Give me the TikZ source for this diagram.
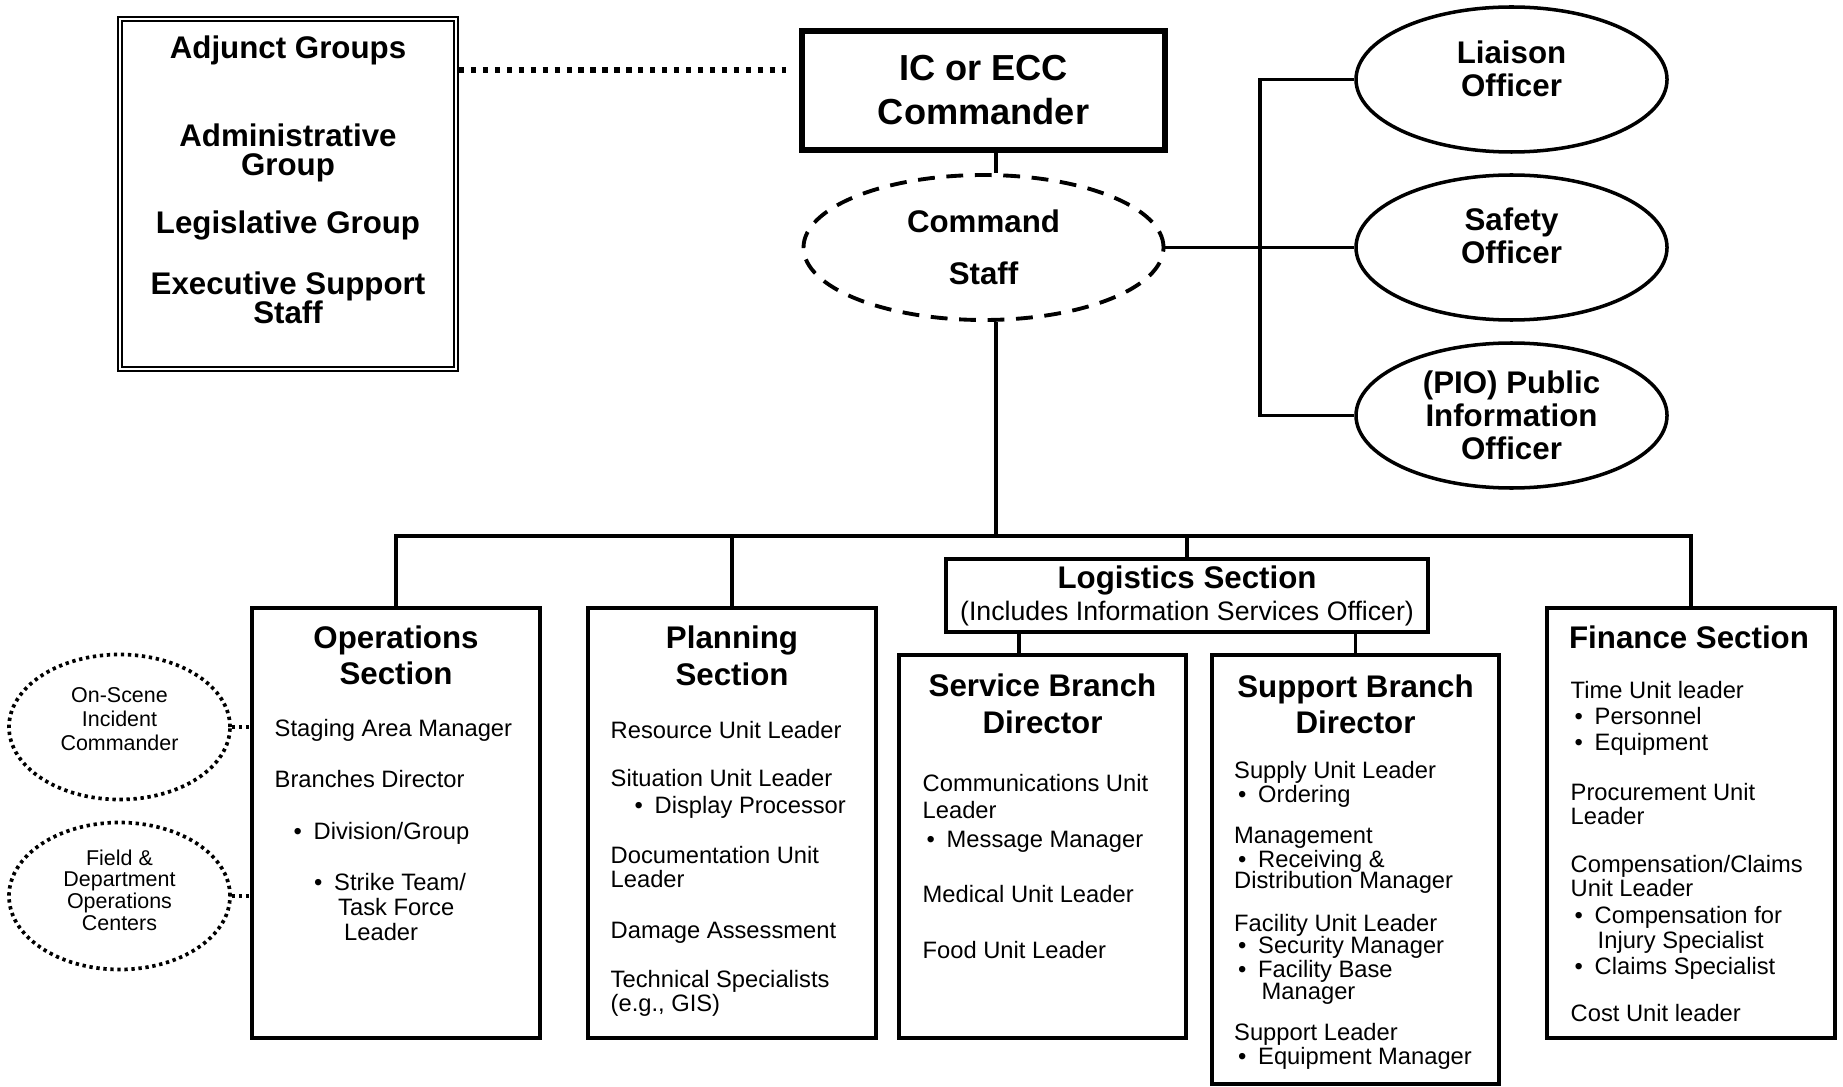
\documentclass[tikz,border=0pt]{standalone}
\usepackage{fontspec}
\setmainfont{Liberation Sans}
\usepackage{tikz}
\usetikzlibrary{shapes.geometric}

\newcommand{\headfont}{\fontsize{8.9}{9.4}\selectfont\bfseries}
\newcommand{\itemfont}{\fontsize{6.75}{7.7}\selectfont}
\newcommand{\bul}{\makebox[0.2cm][l]{\textbullet}}

\begin{document}
\begin{tikzpicture}[x=1cm,y=-1cm,
  box/.style={draw,line width=1pt,inner sep=0pt},
  oval/.style={draw,ellipse,line width=1pt,inner sep=0pt,align=center,font=\headfont,minimum width=3.11cm,minimum height=1.45cm},
  smalloval/.style={draw,ellipse,line width=1.05pt,dash pattern=on 0.95pt off 1.05pt,inner sep=0pt,align=center,minimum width=2.21cm},
  head/.style={anchor=base,inner sep=0pt,font=\headfont},
  item/.style={anchor=base west,inner sep=0pt,font=\itemfont},
  link/.style={line width=0.9pt},
  dotlink/.style={line width=1.05pt,dash pattern=on 0.95pt off 1.05pt}]
\useasboundingbox (0,0) rectangle (18.43,10.86);
% top row
\node[draw,double,line width=0.55pt,double distance=0.65pt,minimum width=3.36cm,minimum height=3.50cm] (adj) at (2.88,1.94) {};
\foreach \y/\t [count=\i] in {0.585/Adjunct Groups,1.47/Administrative,1.76/Group,2.34/Legislative Group,2.945/Executive Support,3.235/Staff}
  \node[head] (adj-\i) at (2.88,\y) {\t};
\node[draw,line width=1.7pt,inner sep=0pt,minimum width=3.63cm,minimum height=1.19cm,align=center,font=\fontsize{10.3}{12.5}\selectfont\bfseries] (ic) at (9.835,0.905) {IC or ECC\\Commander};
\node[draw,ellipse,line width=1.1pt,dash pattern=on 4.8pt off 3.3pt,inner sep=0pt,minimum width=3.60cm,minimum height=1.45cm,align=center,font=\fontsize{8.9}{14.8}\selectfont\bfseries] (cs) at (9.835,2.475) {Command\\Staff};
\coordinate (lnk) at (0,0.70);
\draw[line width=1.5pt,dash pattern=on 1.5pt off 1.9pt,shorten <=0.02cm,shorten >=0.13cm] (adj.east |- lnk) -- (ic.west |- lnk);
\coordinate (stem) at (9.96,0);
\draw[link] (ic.south -| stem) -- (cs.north -| stem);
% officers
\node[oval,text depth=0.22cm] (liaison) at (15.115,0.795) {Liaison\\Officer};
\node[oval,text depth=0.24cm] (safety) at (15.115,2.475) {Safety\\Officer};
\node[oval] (pio) at (15.115,4.155) {(PIO) Public\\Information\\Officer};
\coordinate (rail) at (12.60,0);
\draw[link] (liaison.west) -- (liaison.west -| rail) -- (pio.west -| rail) -- (pio.west);
\draw[link] (cs.east) -- (safety.west);
% sections
\node[box,minimum width=2.88cm,minimum height=4.30cm] (ops) at (3.96,8.23) {};
\node[box,minimum width=2.88cm,minimum height=4.30cm] (plan) at (7.32,8.23) {};
\node[box,minimum width=4.82cm,minimum height=0.73cm,align=center,font=\fontsize{7.6}{9.1}\selectfont] (log) at (11.87,5.955)
  {{\fontsize{8.9}{9.1}\selectfont\bfseries Logistics Section}\\(Includes Information Services Officer)};
\node[box,minimum width=2.87cm,minimum height=3.83cm] (svc) at (10.425,8.465) {};
\node[box,minimum width=2.87cm,minimum height=4.29cm] (sup) at (13.555,8.695) {};
\node[box,minimum width=2.88cm,minimum height=4.30cm] (fin) at (16.91,8.23) {};
% bus lines
\coordinate (bus) at (9.96,5.36);
\draw[link] (cs.south -| bus) -- (bus);
\draw[link] (ops.north) -- (ops.north |- bus) -- (fin.north |- bus) -- (fin.north);
\draw[link] (plan.north) -- (plan.north |- bus);
\draw[link] (log.north) -- (log.north |- bus);
\coordinate (svcdrop) at (10.19,0);
\draw[link] (log.south -| svcdrop) -- (svc.north -| svcdrop);
\draw[link] (log.south -| sup.north) -- (sup.north);
% field ovals
\node[smalloval,minimum height=1.45cm,text depth=0.16cm,font=\fontsize{6.1}{6.7}\selectfont] (onscene) at (1.195,7.27) {On-Scene\\Incident\\Commander};
\node[smalloval,minimum height=1.47cm,text depth=0.12cm,font=\fontsize{6.1}{6.2}\selectfont] (field) at (1.195,8.96) {Field \&\\Department\\Operations\\Centers};
\draw[dotlink] (onscene.east) -- (onscene.east -| ops.west);
\draw[dotlink] (field.east) -- (field.east -| ops.west);
% titles
\node[head] (ops-h1) at (3.96,6.48) {Operations};
\node[head] (ops-h2) at (3.96,6.845) {Section};
\node[head] (plan-h1) at (7.32,6.485) {Planning};
\node[head] (plan-h2) at (7.32,6.85) {Section};
\node[head] (svc-h1) at (10.425,6.965) {Service Branch};
\node[head] (svc-h2) at (10.425,7.33) {Director};
\node[head] (sup-h1) at (13.555,6.97) {Support Branch};
\node[head] (sup-h2) at (13.555,7.33) {Director};
\node[head] (fin-h1) at (16.89,6.48) {Finance Section};
% items
\foreach \x/\y/\t [count=\i] in {2.74/7.365/Staging Area Manager,2.74/7.87/Branches Director,
  2.93/8.395/{\bul Division/Group},3.135/8.905/{\bul Strike Team/},3.375/9.155/Task Force,3.435/9.40/Leader}
  \node[item] (ops-\i) at (\x,\y) {\t};
\foreach \x/\y/\t [count=\i] in {6.10/7.38/Resource Unit Leader,6.10/7.865/Situation Unit Leader,
  6.34/8.135/\bul Display Processor,6.10/8.63/Documentation Unit,6.10/8.875/Leader,
  6.10/9.38/Damage Assessment,6.10/9.875/Technical Specialists,6.10/10.115/{(e.g., GIS)}}
  \node[item] (plan-\i) at (\x,\y) {\t};
\foreach \x/\y/\t [count=\i] in {9.22/7.91/Communications Unit,9.22/8.18/Leader,
  9.26/8.47/\bul Message Manager,9.22/9.025/Medical Unit Leader,9.22/9.58/Food Unit Leader}
  \node[item] (svc-\i) at (\x,\y) {\t};
\foreach \x/\y/\t [count=\i] in {12.335/7.78/Supply Unit Leader,12.375/8.02/\bul Ordering,
  12.335/8.43/Management,12.375/8.67/\bul Receiving \&,12.335/8.88/Distribution Manager,
  12.335/9.31/Facility Unit Leader,12.375/9.535/\bul Security Manager,12.375/9.77/\bul Facility Base,
  12.61/9.99/Manager,12.335/10.405/Support Leader,12.375/10.64/\bul Equipment Manager}
  \node[item] (sup-\i) at (\x,\y) {\t};
\foreach \x/\y/\t [count=\i] in {15.70/6.98/Time Unit leader,15.74/7.24/\bul Personnel,15.74/7.505/\bul Equipment,
  15.70/8.005/Procurement Unit,15.70/8.245/Leader,15.70/8.72/{Compensation/Claims},15.70/8.965/Unit Leader,
  15.74/9.236/\bul Compensation for,15.97/9.48/Injury Specialist,15.74/9.74/\bul Claims Specialist,
  15.70/10.21/Cost Unit leader}
  \node[item] (fin-\i) at (\x,\y) {\t};
\end{tikzpicture}
\end{document}
